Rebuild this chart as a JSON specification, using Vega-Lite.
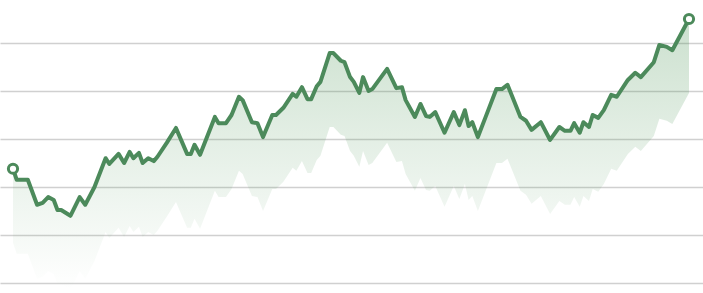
{
  "$schema": "https://vega.github.io/schema/vega-lite/v6.json",
  "width": 703,
  "height": 293,
  "autosize": {"type": "fit", "contains": "padding"},
  "padding": 0,
  "background": "white",
  "config": {"view": {"stroke": null}},
  "data": {
    "values": [
      {"d": 0, "v": 23.8, "low": 8.4},
      {"d": 2, "v": 21.5, "low": 6.1},
      {"d": 8, "v": 21.5, "low": 6.1},
      {"d": 13, "v": 16.3, "low": 0.9},
      {"d": 16, "v": 16.7, "low": 1.3},
      {"d": 19, "v": 17.9, "low": 2.5},
      {"d": 22, "v": 17.3, "low": 1.9},
      {"d": 24, "v": 15.2, "low": -0.2},
      {"d": 26, "v": 15.2, "low": -0.2},
      {"d": 31, "v": 14.0, "low": -1.4},
      {"d": 36, "v": 17.9, "low": 2.5},
      {"d": 39, "v": 16.3, "low": 0.9},
      {"d": 44, "v": 20.0, "low": 4.6},
      {"d": 50, "v": 26.0, "low": 10.6},
      {"d": 52, "v": 24.8, "low": 9.4},
      {"d": 57, "v": 26.9, "low": 11.5},
      {"d": 60, "v": 25.0, "low": 9.6},
      {"d": 63, "v": 27.3, "low": 11.9},
      {"d": 65, "v": 26.0, "low": 10.6},
      {"d": 68, "v": 27.1, "low": 11.7},
      {"d": 70, "v": 25.0, "low": 9.6},
      {"d": 73, "v": 26.0, "low": 10.6},
      {"d": 76, "v": 25.4, "low": 10.0},
      {"d": 78, "v": 26.3, "low": 10.9},
      {"d": 83, "v": 29.2, "low": 13.8},
      {"d": 88, "v": 32.3, "low": 16.9},
      {"d": 94, "v": 26.9, "low": 11.5},
      {"d": 96, "v": 26.9, "low": 11.5},
      {"d": 98, "v": 28.8, "low": 13.4},
      {"d": 101, "v": 26.7, "low": 11.3},
      {"d": 109, "v": 34.6, "low": 19.2},
      {"d": 111, "v": 33.3, "low": 17.9},
      {"d": 115, "v": 33.3, "low": 17.9},
      {"d": 118, "v": 35.0, "low": 19.6},
      {"d": 122, "v": 38.8, "low": 23.4},
      {"d": 124, "v": 38.1, "low": 22.7},
      {"d": 129, "v": 33.5, "low": 18.1},
      {"d": 132, "v": 33.3, "low": 17.9},
      {"d": 135, "v": 30.4, "low": 15.0},
      {"d": 140, "v": 35.0, "low": 19.6},
      {"d": 142, "v": 35.0, "low": 19.6},
      {"d": 146, "v": 36.5, "low": 21.1},
      {"d": 151, "v": 39.4, "low": 24.0},
      {"d": 153, "v": 38.8, "low": 23.4},
      {"d": 156, "v": 40.8, "low": 25.4},
      {"d": 159, "v": 38.3, "low": 22.9},
      {"d": 161, "v": 38.3, "low": 22.9},
      {"d": 164, "v": 41.0, "low": 25.6},
      {"d": 166, "v": 41.9, "low": 26.5},
      {"d": 171, "v": 47.9, "low": 32.5},
      {"d": 173, "v": 47.9, "low": 32.5},
      {"d": 177, "v": 46.3, "low": 30.9},
      {"d": 179, "v": 46.0, "low": 30.6},
      {"d": 182, "v": 42.9, "low": 27.5},
      {"d": 184, "v": 41.9, "low": 26.5},
      {"d": 187, "v": 39.6, "low": 24.2},
      {"d": 189, "v": 42.9, "low": 27.5},
      {"d": 192, "v": 40.0, "low": 24.6},
      {"d": 194, "v": 40.4, "low": 25.0},
      {"d": 202, "v": 44.6, "low": 29.2},
      {"d": 207, "v": 40.6, "low": 25.2},
      {"d": 210, "v": 40.8, "low": 25.4},
      {"d": 212, "v": 38.1, "low": 22.7},
      {"d": 217, "v": 34.6, "low": 19.2},
      {"d": 220, "v": 37.3, "low": 21.9},
      {"d": 223, "v": 34.8, "low": 19.4},
      {"d": 225, "v": 34.6, "low": 19.2},
      {"d": 228, "v": 35.6, "low": 20.2},
      {"d": 233, "v": 31.3, "low": 15.9},
      {"d": 238, "v": 35.6, "low": 20.2},
      {"d": 241, "v": 32.9, "low": 17.5},
      {"d": 244, "v": 36.0, "low": 20.6},
      {"d": 246, "v": 32.7, "low": 17.3},
      {"d": 248, "v": 33.5, "low": 18.1},
      {"d": 251, "v": 30.4, "low": 15.0},
      {"d": 255, "v": 34.4, "low": 19.0},
      {"d": 261, "v": 40.4, "low": 25.0},
      {"d": 264, "v": 40.4, "low": 25.0},
      {"d": 267, "v": 41.3, "low": 25.9},
      {"d": 274, "v": 34.6, "low": 19.2},
      {"d": 277, "v": 33.8, "low": 18.4},
      {"d": 280, "v": 31.9, "low": 16.5},
      {"d": 285, "v": 33.5, "low": 18.1},
      {"d": 290, "v": 29.8, "low": 14.4},
      {"d": 295, "v": 32.5, "low": 17.1},
      {"d": 298, "v": 31.7, "low": 16.3},
      {"d": 301, "v": 31.7, "low": 16.3},
      {"d": 303, "v": 33.3, "low": 17.9},
      {"d": 306, "v": 31.3, "low": 15.9},
      {"d": 308, "v": 33.5, "low": 18.1},
      {"d": 311, "v": 32.5, "low": 17.1},
      {"d": 313, "v": 35.0, "low": 19.6},
      {"d": 316, "v": 34.4, "low": 19.0},
      {"d": 319, "v": 36.0, "low": 20.6},
      {"d": 323, "v": 39.2, "low": 23.8},
      {"d": 326, "v": 38.8, "low": 23.4},
      {"d": 332, "v": 42.3, "low": 26.9},
      {"d": 336, "v": 43.8, "low": 28.4},
      {"d": 339, "v": 42.9, "low": 27.5},
      {"d": 346, "v": 46.0, "low": 30.6},
      {"d": 349, "v": 49.6, "low": 34.2},
      {"d": 353, "v": 49.2, "low": 33.8},
      {"d": 356, "v": 48.5, "low": 33.1},
      {"d": 365, "v": 55.0, "low": 39.6}
    ]
  },
  "encoding": {
    "x": {
      "field": "d",
      "type": "quantitative",
      "scale": {"domain": [-7.019, 372.56], "nice": false, "zero": false},
      "axis": null
    },
    "y": {
      "field": "v",
      "type": "quantitative",
      "scale": {"domain": [-2.083, 58.958], "nice": false, "zero": false},
      "axis": {
        "values": [0, 10, 20, 30, 40, 50],
        "grid": true,
        "gridColor": "#d0d0d0",
        "gridWidth": 1.5,
        "labels": false,
        "ticks": false,
        "domain": false,
        "title": null,
        "minExtent": 0,
        "offset": 0
      }
    }
  },
  "layer": [
    {
      "mark": {
        "type": "area",
        "fill": {
          "gradient": "linear",
          "x1": 0, "y1": 0, "x2": 0, "y2": 1,
          "stops": [
            {"offset": 0, "color": "rgba(70,145,80,0.28)"},
            {"offset": 0.4, "color": "rgba(70,145,80,0.16)"},
            {"offset": 0.7, "color": "rgba(70,145,80,0.08)"},
            {"offset": 1, "color": "rgba(70,145,80,0.0)"}
          ]
        }
      },
      "encoding": {"y2": {"field": "low"}}
    },
    {
      "mark": {
        "type": "line",
        "color": "#4c8a5b",
        "strokeWidth": 4,
        "strokeJoin": "round",
        "strokeCap": "round"
      }
    },
    {
      "transform": [{"filter": "datum.d == 0 || datum.d == 365"}],
      "mark": {
        "type": "point",
        "shape": "circle",
        "filled": true,
        "fill": "white",
        "stroke": "#4c8a5b",
        "strokeWidth": 3,
        "size": 85,
        "opacity": 1
      }
    }
  ]
}
